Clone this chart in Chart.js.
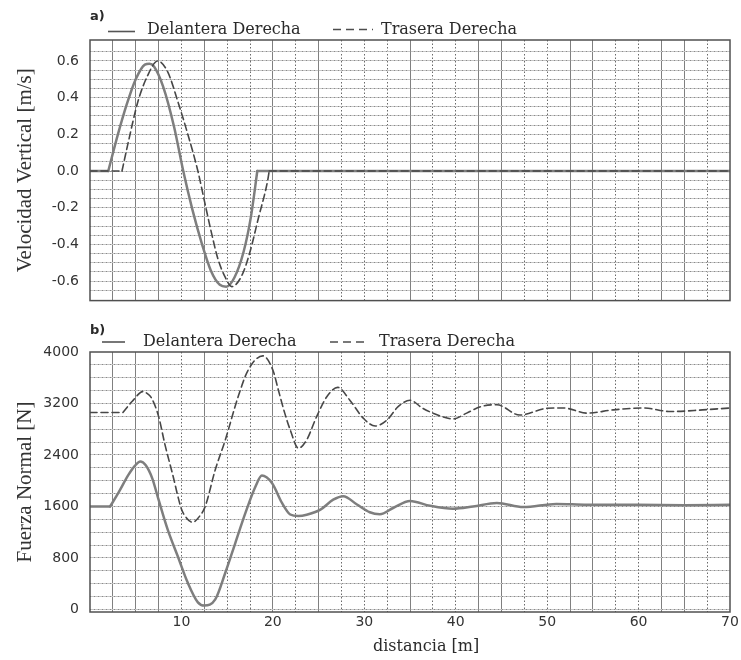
<!DOCTYPE html>
<html>
<head>
<meta charset="utf-8">
<script src="https://cdn.jsdelivr.net/npm/chart.js@4.4.1/dist/chart.umd.min.js"></script>
<style>
  html, body { margin: 0; padding: 0; background: #fff; }
  #wrap { position: relative; width: 741px; height: 660px; overflow: hidden; }
  #velChart { position: absolute; left: 0; top: 0; }
  #fzaChart { position: absolute; left: 0; top: 320px; }
  #labels { position: absolute; left: 0; top: 0; }
</style>
</head>
<body>
<div id="wrap">
  <canvas id="velChart" width="741" height="320"></canvas>
  <canvas id="fzaChart" width="741" height="340"></canvas>
  <svg id="labels" width="741" height="660" xmlns="http://www.w3.org/2000/svg">
    <g fill="#2a2a2a">
      <text x="90" y="19.5" font-family="DejaVu Sans" font-size="13" font-weight="bold">a)</text>
      <text x="147" y="33.5" font-family="DejaVu Serif" font-size="16">Delantera Derecha</text>
      <text x="381" y="33.5" font-family="DejaVu Serif" font-size="16">Trasera Derecha</text>
      <text x="90" y="333.5" font-family="DejaVu Sans" font-size="13" font-weight="bold">b)</text>
      <text x="143" y="346" font-family="DejaVu Serif" font-size="16">Delantera Derecha</text>
      <text x="379" y="346" font-family="DejaVu Serif" font-size="16">Trasera Derecha</text>
      <text x="373" y="651" font-family="DejaVu Serif" font-size="16">distancia [m]</text>
    </g>
    <line x1="108" y1="31.5" x2="135" y2="31.5" stroke="#555" stroke-width="1.6"/>
    <line x1="333" y1="29.5" x2="373" y2="29.5" stroke="#4d4d4d" stroke-width="1.5" stroke-dasharray="8,5"/>
    <line x1="102" y1="342" x2="125" y2="342" stroke="#555" stroke-width="1.6"/>
    <line x1="330" y1="342" x2="368" y2="342" stroke="#4d4d4d" stroke-width="1.5" stroke-dasharray="8,5"/>
  </svg>
</div>
<script>
// a) Velocidad vertical de la rueda [m/s] frente a la distancia recorrida [m]
const velDelX = [0, 2.0, 3.0, 4.0, 5.0, 6.0, 6.5, 7.0, 8.0, 9.2, 10.2, 11.2, 12.2, 13.2, 14.2, 14.9, 15.8, 16.8, 17.6, 18.3, 70];
const velDelY = [0, 0, 0.19, 0.36, 0.50, 0.58, 0.585, 0.57, 0.46, 0.24, 0.0, -0.21, -0.39, -0.54, -0.62, -0.63, -0.58, -0.44, -0.25, 0, 0];
const velTraX = [0, 3.5, 4.2, 5.25, 6.3, 7.4, 8.5, 9.6, 10.7, 11.8, 12.5, 13.3, 14.0, 14.8, 15.5, 16.6, 17.5, 18.4, 19.4, 19.6, 70];
const velTraY = [0, 0, 0.16, 0.38, 0.52, 0.60, 0.54, 0.38, 0.20, 0.0, -0.16, -0.34, -0.48, -0.58, -0.63, -0.57, -0.44, -0.26, -0.06, 0, 0];

// b) Fuerza normal en la rueda [N] frente a la distancia recorrida [m]
const fzaDelX = [0, 2.2, 3.1, 4.2, 4.9, 5.5, 6.1, 6.8, 7.5, 8.5, 9.6, 10.7, 11.8, 12.5, 13.7, 14.8, 15.9, 17.0, 18.1, 18.8, 19.9, 21.0, 21.9, 22.8, 23.7, 25.2, 26.6, 27.7, 29.2, 30.6, 31.7, 33.2, 35.0, 37.2, 39.7, 41.9, 44.5, 47.4, 51.0, 54.4, 59.8, 65.0, 70];
const fzaDelY = [1600, 1600, 1810, 2090, 2230, 2300, 2240, 2040, 1705, 1240, 826, 413, 110, 60, 155, 570, 1035, 1500, 1910, 2080, 1965, 1655, 1475, 1450, 1470, 1550, 1705, 1760, 1630, 1510, 1480, 1580, 1685, 1610, 1565, 1600, 1655, 1590, 1640, 1625, 1625, 1620, 1625];
const fzaTraX = [0, 3.6, 4.6, 5.8, 6.2, 6.75, 7.5, 8.2, 9.0, 10.0, 10.4, 11.2, 12.0, 12.6, 13.7, 14.8, 16.2, 17.3, 18.9, 20.0, 20.6, 21.3, 21.9, 22.8, 23.7, 24.8, 25.9, 27.1, 28.4, 29.9, 31.2, 32.5, 33.7, 35.0, 36.4, 38.3, 39.7, 41.2, 42.7, 44.5, 47.0, 50.0, 51.8, 54.4, 57.2, 60.5, 63.5, 67.0, 70];
const fzaTraY = [3060, 3060, 3230, 3385, 3360, 3280, 3000, 2560, 2120, 1560, 1450, 1355, 1450, 1600, 2170, 2635, 3305, 3720, 3940, 3720, 3410, 3050, 2790, 2505, 2635, 3000, 3305, 3450, 3255, 2970, 2850, 2945, 3150, 3250, 3125, 3005, 2960, 3050, 3150, 3180, 3020, 3125, 3130, 3050, 3100, 3130, 3075, 3100, 3130];

// Etiquetas de los ejes
const distLabels = [10, 20, 30, 40, 50, 60, 70];
const velLabels = [-0.6, -0.4, -0.2, 0.0, 0.2, 0.4, 0.6];
const fzaLabels = [0, 800, 1600, 2400, 3200, 4000];

// Retícula vertical: líneas continuas y punteadas cada 2,5 m
const distGridSolid = [2.5, 5, 7.5, 12.5, 20, 25, 35, 42.5, 45, 52.5, 55, 62.5, 65];
const distGridDotted = [10, 15, 17.5, 22.5, 27.5, 30, 32.5, 37.5, 40, 47.5, 50, 57.5, 60, 67.5];

function steps(lo, hi, step) {
  const out = [];
  const n = Math.round((hi - lo) / step);
  for (let i = 0; i <= n; i++) out.push(+(lo + i * step).toFixed(4));
  return out;
}
const velGrid = steps(-0.65, 0.65, 0.05);
const fzaGrid = steps(0, 3800, 200);
const distTicksAll = steps(2.5, 70, 2.5);

const has = (list, v) => list.some(t => Math.abs(t - v) < 1e-6);

// Cada serie se dibuja por tramos: los tramos planos se unen a la curva con esquina viva
function pieces(xs, ys, cuts, style) {
  const out = [];
  let start = 0;
  for (const c of [...cuts, xs.length - 1]) {
    const pts = [];
    for (let i = start; i <= c; i++) pts.push({ x: xs[i], y: ys[i] });
    out.push(Object.assign({ data: pts }, style));
    start = c;
  }
  return out;
}

const solidStyle = { borderColor: '#7e7e7e', borderWidth: 2.5 };
const dashStyle = { borderColor: '#474747', borderWidth: 1.6, borderDash: [7, 4] };

const framePlugin = {
  id: 'frame',
  afterDatasetsDraw(chart) {
    const { ctx, chartArea: a } = chart;
    ctx.save();
    ctx.strokeStyle = '#505050';
    ctx.lineWidth = 1.5;
    ctx.strokeRect(a.left, a.top, a.right - a.left, a.bottom - a.top);
    ctx.restore();
  }
};

const tickFont = { family: 'DejaVu Sans', size: 14 };
const titleFont = { family: 'Liberation Serif', size: 21 };

function makeChart(id, opt) {
  return new Chart(document.getElementById(id), {
    type: 'line',
    data: { datasets: opt.datasets },
    options: {
      responsive: false,
      animation: false,
      devicePixelRatio: 1,
      layout: { padding: { top: opt.padTop, right: 11, left: 0, bottom: 0 } },
      plugins: { legend: { display: false }, tooltip: { enabled: false } },
      elements: {
        point: { radius: 0 },
        line: { cubicInterpolationMode: 'monotone', fill: false, borderCapStyle: 'round' }
      },
      scales: {
        x: {
          type: 'linear', position: 'bottom', min: 0, max: 70,
          afterBuildTicks: a => { a.ticks = distTicksAll.map(v => ({ value: v })); },
          afterFit: a => { a.height = opt.xHeight; },
          ticks: {
            display: opt.xLabels, autoSkip: false, maxRotation: 0, padding: 2,
            color: '#333', font: tickFont,
            callback: v => has(distLabels, v) ? String(v) : ''
          },
          grid: {
            drawTicks: false, lineWidth: 1,
            color: c => (c.tick && has(distGridSolid, c.tick.value)) ? '#808080' : 'rgba(0,0,0,0)'
          },
          border: { display: false }
        },
        xd: {
          type: 'linear', position: 'bottom', min: 0, max: 70,
          afterBuildTicks: a => { a.ticks = distGridDotted.map(v => ({ value: v })); },
          afterFit: a => { a.height = 0; },
          ticks: { display: false },
          grid: { drawTicks: false, lineWidth: 1, color: '#6a6a6a' },
          border: { display: false, dash: [1.5, 2] }
        },
        y: {
          type: 'linear', position: 'left', min: opt.yMin, max: opt.yMax,
          afterBuildTicks: a => { a.ticks = opt.yTicks.map(v => ({ value: v })); },
          afterFit: a => { a.width = 90; },
          ticks: {
            autoSkip: false, padding: 11, color: '#333', font: tickFont,
            callback: opt.yFormat
          },
          grid: {
            drawTicks: false, lineWidth: 1,
            color: c => (c.tick && has(opt.yGrid, c.tick.value)) ? '#c6c6c6' : 'rgba(0,0,0,0)'
          },
          border: { display: false },
          title: { display: true, text: opt.yTitle, color: '#333', font: titleFont, padding: { top: 13, bottom: 0 } }
        },
        yd: {
          type: 'linear', position: 'left', min: opt.yMin, max: opt.yMax,
          afterBuildTicks: a => { a.ticks = opt.yGrid.map(v => ({ value: v })); },
          afterFit: a => { a.width = 0; },
          ticks: { display: false },
          grid: { drawTicks: false, lineWidth: 1, color: '#8a8a8a' },
          border: { display: false, dash: [1, 3] }
        }
      }
    },
    plugins: [framePlugin]
  });
}

makeChart('velChart', {
  datasets: [
    ...pieces(velTraX, velTraY, [1, 19], dashStyle),
    ...pieces(velDelX, velDelY, [1, 19], solidStyle)
  ],
  padTop: 40, xHeight: 18, xLabels: false,
  yMin: -0.706, yMax: 0.714,
  yTicks: [...new Set([...velGrid, ...velLabels])].sort((a, b) => a - b),
  yGrid: velGrid,
  yFormat: v => has(velLabels, v) ? v.toFixed(1) : '',
  yTitle: 'Velocidad Vertical [m/s]'
});

makeChart('fzaChart', {
  datasets: [
    ...pieces(fzaTraX, fzaTraY, [1], dashStyle),
    ...pieces(fzaDelX, fzaDelY, [1], solidStyle)
  ],
  padTop: 32, xHeight: 48, xLabels: true,
  yMin: -40, yMax: 4000,
  yTicks: [...new Set([...fzaGrid, ...fzaLabels])].sort((a, b) => a - b),
  yGrid: fzaGrid,
  yFormat: v => has(fzaLabels, v) ? String(v) : '',
  yTitle: 'Fuerza Normal [N]'
});
</script>
</body>
</html>
